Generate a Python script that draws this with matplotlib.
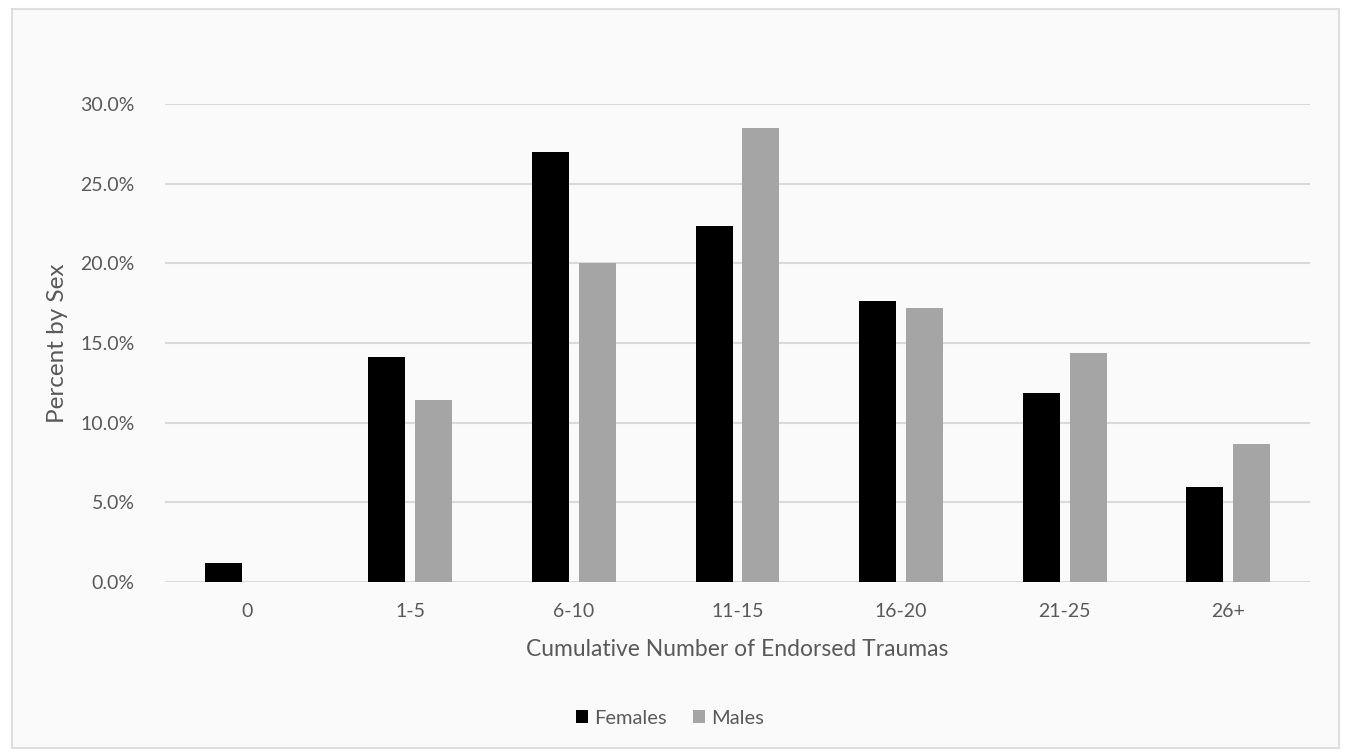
import matplotlib
matplotlib.use("Agg")
import matplotlib.pyplot as plt
from matplotlib.patches import Rectangle, Patch
from matplotlib.ticker import FuncFormatter
import numpy as np

categories = ["0", "1-5", "6-10", "11-15", "16-20", "21-25", "26+"]
females = [1.2, 14.1, 27.0, 22.35, 17.65, 11.85, 5.95]
males = [0.0, 11.4, 20.0, 28.5, 17.2, 14.35, 8.65]
yticks = [0, 5, 10, 15, 20, 25, 30]

plt.rcParams["font.family"] = ["Lato", "DejaVu Sans"]
text_color = "#595959"
female_color = "#000000"
male_color = "#a6a5a6"
grid_color = "#dadada"

W, H = 1347, 755
fig = plt.figure(figsize=(W / 100, H / 100), dpi=100)
fig.patch.set_facecolor("white")

# chart area frame, kept behind the axes
frame = Rectangle((12 / W, 1 - 748 / H), (1339 - 12) / W, (748 - 9) / H,
                  transform=fig.transFigure, facecolor="#fafafa",
                  edgecolor="#dedede", linewidth=1.5, zorder=-10)
fig.patches.append(frame)

ax = fig.add_axes([165 / W, 1 - 582 / H, (1310 - 165) / W, (582 - 104) / H])
ax.set_facecolor("none")
ax.set_zorder(1)

x = np.arange(len(categories))
width = 0.226
gap = 0.061
off = (width + gap) / 2
ax.bar(x - off, females, width, color=female_color, zorder=3, label="Females")
ax.bar(x + off, males, width, color=male_color, zorder=3, label="Males")

ax.set_xlim(-0.5, len(categories) - 0.5)
ax.set_ylim(0, 30)
ax.set_yticks(yticks)
ax.yaxis.set_major_formatter(FuncFormatter(lambda v, p: f"{v:.1f}%"))
ax.set_xticks(x)
ax.set_xticklabels(categories)
ax.grid(axis="y", color=grid_color, linewidth=1.5, zorder=0)
ax.set_axisbelow(True)
for s in ax.spines.values():
    s.set_visible(False)
ax.tick_params(axis="both", length=0, labelsize=14, colors=text_color)
ax.tick_params(axis="y", pad=22)
ax.tick_params(axis="x", pad=15)

ax.set_ylabel("Percent by Sex", fontsize=17.5, color=text_color, labelpad=9)
ax.set_xlabel("Cumulative Number of Endorsed Traumas", fontsize=16.5, color=text_color, labelpad=14)

handles = [Patch(facecolor=female_color, label="Females"),
           Patch(facecolor=male_color, label="Males")]
leg = fig.legend(handles=handles, loc="center", bbox_to_anchor=(670 / W, 1 - 718 / H),
                 ncol=2, frameon=False, fontsize=14.5, handlelength=0.6, handleheight=0.6,
                 handletextpad=0.3, columnspacing=1.3)
for t in leg.get_texts():
    t.set_color(text_color)

fig.savefig("out.png", dpi=100, facecolor="white")
